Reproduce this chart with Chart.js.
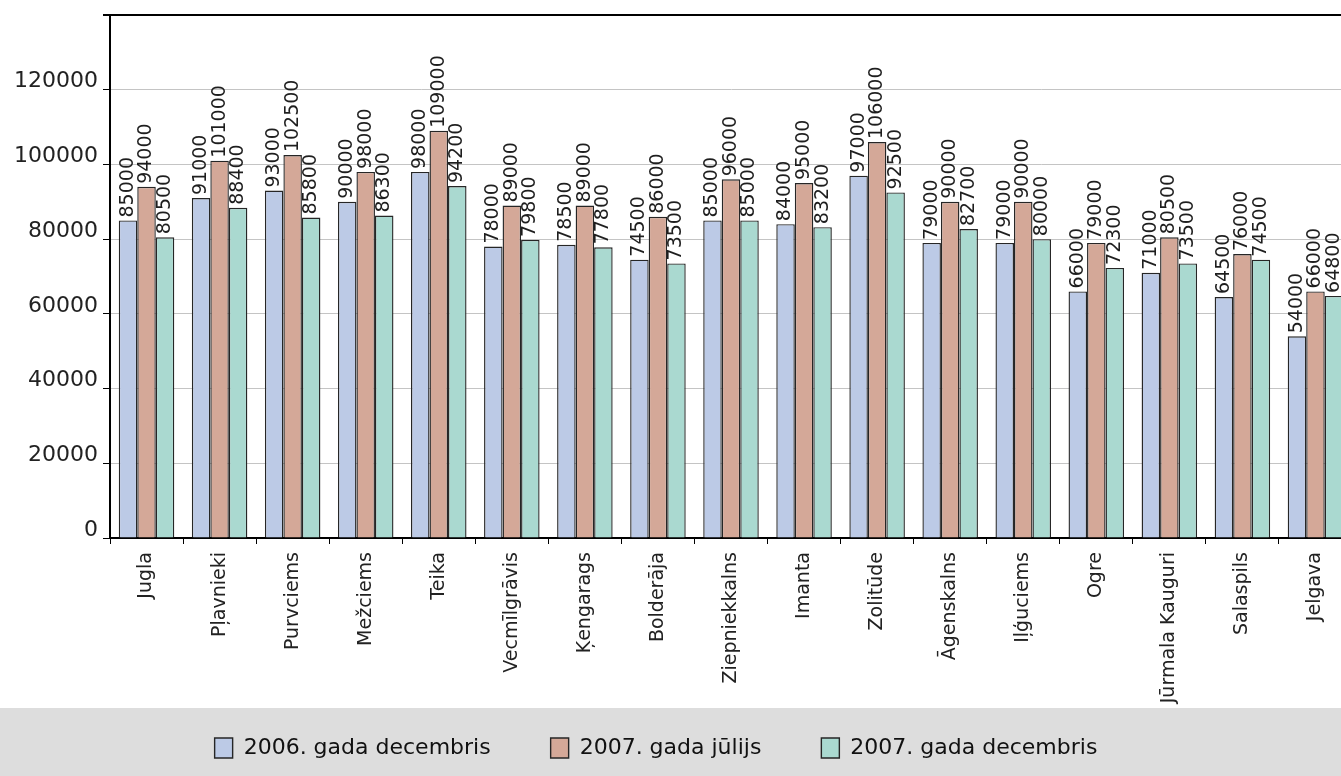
<!DOCTYPE html>
<html>
<head>
<meta charset="utf-8">
<script src="https://cdn.jsdelivr.net/npm/chart.js@4.4.1/dist/chart.umd.min.js"></script>
<style>
  html, body { margin: 0; padding: 0; background: #fff; overflow: hidden; }
  #wrap { width: 1352px; height: 776px; }
</style>
</head>
<body>
<div id="wrap"><canvas id="chart"></canvas></div>
<script>
// categories + three series
const districts = [
  "Jugla", "Pļavnieki", "Purvciems", "Mežciems", "Teika", "Vecmīlgrāvis",
  "Ķengarags", "Bolderāja", "Ziepniekkalns", "Imanta", "Zolitūde", "Āgenskalns",
  "Iļģuciems", "Ogre", "Jūrmala Kauguri", "Salaspils", "Jelgava",
];
const dec2006 = [85000, 91000, 93000, 90000, 98000, 78000, 78500, 74500, 85000, 84000, 97000, 79000, 79000, 66000, 71000, 64500, 54000];
const jul2007 = [94000, 101000, 102500, 98000, 109000, 89000, 89000, 86000, 96000, 95000, 106000, 90000, 90000, 79000, 80500, 76000, 66000];
const dec2007 = [80500, 88400, 85800, 86300, 94200, 79800, 77800, 73500, 85000, 83200, 92500, 82700, 80000, 72300, 73500, 74500, 64800];
const seriesNames = ["2006. gada decembris", "2007. gada jūlijs", "2007. gada decembris"];
const yMax = 140000;
const yStep = 20000;

Chart.defaults.font.family = "'DejaVu Sans', sans-serif";
Chart.defaults.color = "#222";

// values written upright above every bar
const barValues = {
  id: "barValues",
  afterDatasetsDraw(chart) {
    const ctx = chart.ctx;
    ctx.save();
    ctx.font = "19px 'DejaVu Sans'";
    ctx.fillStyle = "#1e1e1e";
    ctx.textAlign = "left";
    ctx.textBaseline = "middle";
    chart.data.datasets.forEach((ds, i) => {
      chart.getDatasetMeta(i).data.forEach((bar, j) => {
        ctx.save();
        ctx.translate(bar.x, bar.y - 3);
        ctx.rotate(-Math.PI / 2);
        ctx.fillText(String(ds.data[j]), 0, 0);
        ctx.restore();
      });
    });
    ctx.restore();
  },
};

// grey strip behind the legend
const legendBand = {
  id: "legendBand",
  beforeDraw(chart) {
    const ctx = chart.ctx;
    ctx.save();
    ctx.fillStyle = "#dddddd";
    ctx.fillRect(0, chart.height - 68, chart.width, 68);
    ctx.restore();
  },
};

// wide gaps between legend items but a short legend box
const legendFit = {
  id: "legendFit",
  beforeInit(chart) {
    const fit = chart.legend.fit;
    chart.legend.fit = function () {
      fit.call(this);
      this.height = 68;
    };
  },
  afterLayout(chart) {
    chart.legend.top -= 31;
    chart.legend.left -= 20;
    chart.legend.right -= 20;
  },
};

function ds(label, data, color) {
  return {
    label,
    data,
    backgroundColor: color,
    borderColor: "#262626",
    borderWidth: 1.4,
    categoryPercentage: 0.76,
    barPercentage: 1,
  };
}

new Chart(document.getElementById("chart"), {
  type: "bar",
  data: {
    labels: districts,
    datasets: [
      ds(seriesNames[0], dec2006, "#bccae6"),
      ds(seriesNames[1], jul2007, "#d4a898"),
      ds(seriesNames[2], dec2007, "#aad9d0"),
    ],
  },
  options: {
    responsive: true,
    maintainAspectRatio: false,
    animation: false,
    layout: { padding: { top: 15, right: 0, left: 0, bottom: 0 } },
    plugins: {
      legend: {
        position: "bottom",
        labels: {
          boxWidth: 18,
          boxHeight: 20,
          padding: 60,
          color: "#111",
          font: { size: 22 },
        },
      },
      tooltip: { enabled: false },
    },
    scales: {
      x: {
        grid: {
          drawOnChartArea: false,
          offset: true,
          tickLength: 6,
          tickColor: "#000",
        },
        border: { color: "#000", width: 2 },
        ticks: {
          autoSkip: false,
          minRotation: 90,
          maxRotation: 90,
          padding: 8,
          color: "#222",
          font: { size: 19 },
        },
        afterFit(scale) { scale.height = 170; },
      },
      y: {
        min: 0,
        max: yMax,
        grid: {
          color: c => (c.tick && c.tick.value === yMax ? "#000" : "#c4c4c4"),
          lineWidth: c => (c.tick && c.tick.value === yMax ? 2 : 1),
          tickLength: 7,
          tickColor: "#000",
        },
        border: { color: "#000", width: 2 },
        ticks: {
          stepSize: yStep,
          padding: 5,
          labelOffset: -8,
          color: "#222",
          font: c => ({ size: c.tick && c.tick.value === yMax ? 1 : 22 }),
          callback: v => (v === yMax ? "" : String(v)),
        },
        afterFit(scale) { scale.width = 110; },
      },
    },
  },
  plugins: [legendFit, legendBand, barValues],
});
</script>
</body>
</html>
